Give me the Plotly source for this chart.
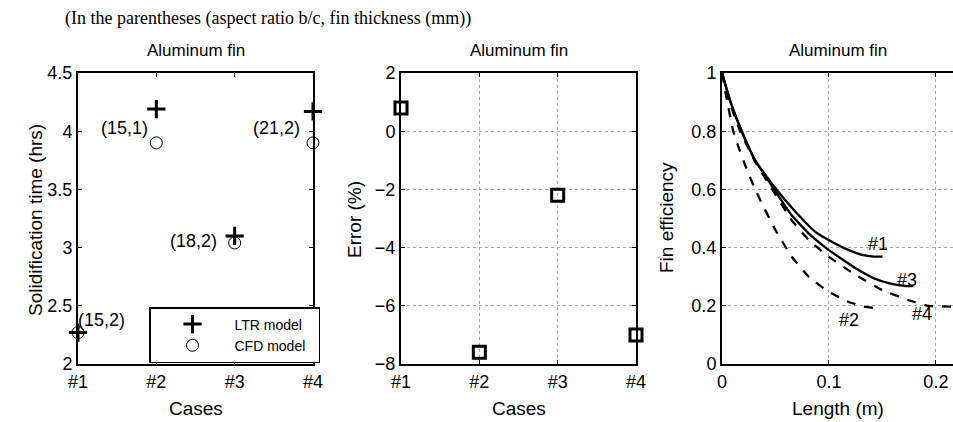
import plotly.graph_objects as go

# ---------------- data ----------------
case_idx = [1, 2, 3, 4]
case_labels = ["#1", "#2", "#3", "#4"]
ltr_time = [2.27, 4.19, 3.10, 4.17]
cfd_time = [2.27, 3.90, 3.04, 3.90]
case_notes = ["(15,2)", "(15,1)", "(18,2)", "(21,2)"]
error_pct = [0.8, -7.6, -2.2, -7.0]

len1 = [0, 0.008, 0.0184, 0.031, 0.05, 0.0685, 0.087, 0.0997, 0.118, 0.131, 0.142, 0.150]
eff1 = [1.0, 0.90, 0.80, 0.70, 0.604, 0.524, 0.455, 0.426, 0.392, 0.375, 0.369, 0.369]
len3 = [0, 0.008, 0.0184, 0.031, 0.047, 0.065, 0.081, 0.0997, 0.125, 0.143, 0.155, 0.165, 0.172, 0.179]
eff3 = [1.0, 0.90, 0.80, 0.70, 0.61, 0.512, 0.449, 0.392, 0.329, 0.293, 0.279, 0.271, 0.268, 0.268]
len4 = [0, 0.008, 0.017, 0.031, 0.047, 0.065, 0.081, 0.0997, 0.125, 0.150, 0.174, 0.193, 0.216]
eff4 = [1.0, 0.89, 0.80, 0.695, 0.60, 0.495, 0.426, 0.369, 0.306, 0.254, 0.220, 0.200, 0.197]
len2 = [0, 0.005, 0.0105, 0.015, 0.022, 0.031, 0.050, 0.065, 0.081, 0.0997, 0.118, 0.132, 0.146]
eff2 = [1.0, 0.90, 0.80, 0.75, 0.68, 0.60, 0.46, 0.37, 0.30, 0.248, 0.214, 0.198, 0.191]
eff_ticks = [0, 0.2, 0.4, 0.6, 0.8, 1]
eff_ticktext = ["0", "0.2", "0.4", "0.6", "0.8", "1"]
len_ticks = [0, 0.1, 0.2]
len_ticktext = ["0", "0.1", "0.2"]

SANS = "Liberation Sans, Arial, sans-serif"
SERIF = "Liberation Serif, Times New Roman, serif"
W, H = 953, 422

def xd(a, b):
    return [a / W, b / W]

ydom = [1 - 364 / H, 1 - 73 / H]

fig = go.Figure()

# Panel 1
fig.add_trace(go.Scatter(x=case_idx, y=ltr_time, mode="markers", name="LTR model\u00a0\u00a0",
                         marker=dict(symbol="cross-thin", size=13, line=dict(width=3, color="black"), color="black"),
                         xaxis="x", yaxis="y", cliponaxis=False))
fig.add_trace(go.Scatter(x=case_idx, y=cfd_time, mode="markers", name="CFD model\u00a0\u00a0",
                         marker=dict(symbol="circle-open", size=12, line=dict(width=1, color="black"), color="black"),
                         xaxis="x", yaxis="y", cliponaxis=False))
# Panel 2
fig.add_trace(go.Scatter(x=case_idx, y=error_pct, mode="markers", showlegend=False,
                         marker=dict(symbol="square-open", size=12, line=dict(width=3, color="black"), color="black"),
                         xaxis="x2", yaxis="y2", cliponaxis=False))
# Panel 3
for L, E, dash in [(len1, eff1, "solid"), (len3, eff3, "solid"), (len2, eff2, "dash"), (len4, eff4, "dash")]:
    fig.add_trace(go.Scatter(x=L, y=E, mode="lines", showlegend=False,
                             line=dict(color="black", width=2.3, dash=dash, shape="spline", smoothing=0.4),
                             xaxis="x3", yaxis="y3"))

axis_common = dict(showline=True, linecolor="black", linewidth=2, ticks="inside", ticklen=4,
                   tickcolor="black", tickwidth=1, zeroline=False, automargin=False,
                   tickfont=dict(family=SANS, size=18, color="black"))
grid = dict(showgrid=True, gridcolor="#a8a8a8", griddash="dot", gridwidth=1)

fig.update_layout(
    width=W, height=H, margin=dict(l=0, r=0, t=0, b=0, autoexpand=False),
    paper_bgcolor="white", plot_bgcolor="white",
    xaxis=dict(domain=xd(78, 313), range=[1, 4], tickvals=case_idx, ticktext=case_labels,
               mirror="ticks", showgrid=False, anchor="y", **axis_common),
    yaxis=dict(domain=ydom, range=[2, 4.5], dtick=0.5, mirror="ticks", showgrid=False,
               anchor="x", **axis_common),
    xaxis2=dict(domain=xd(401, 636), range=[1, 4], tickvals=case_idx, ticktext=case_labels,
                mirror="ticks", anchor="y2", **grid, **axis_common),
    yaxis2=dict(domain=ydom, range=[-8, 2], dtick=2, mirror="ticks", anchor="x2",
                **grid, **axis_common),
    xaxis3=dict(domain=xd(722, 953), range=[0, 0.216], tickvals=len_ticks,
                ticktext=len_ticktext, mirror="ticks", anchor="y3", **grid, **axis_common),
    yaxis3=dict(domain=ydom, range=[0, 1], tickvals=eff_ticks, ticktext=eff_ticktext,
                mirror=False, anchor="x3", **grid, **axis_common),
    showlegend=True,
    legend=dict(x=149 / W, y=1 - 307 / H, xanchor="left", yanchor="top",
                bordercolor="black", borderwidth=1.5, bgcolor="white",
                font=dict(family=SANS, size=14, color="black"), itemwidth=74,
                tracegroupgap=0),
)

ann = []
def txt(text, x, y, size, family=SANS, angle=0, **kw):
    ann.append(dict(text=text, x=x, y=y, xref="paper", yref="paper", showarrow=False,
                    font=dict(family=family, size=size, color="black"), textangle=angle,
                    xanchor="center", yanchor="middle", **kw))

txt("(In the parentheses (aspect ratio b/c, fin thickness (mm))", 268 / W, 1 - 18 / H, 18, family=SERIF)
for cx in [195.5, 518.5, 837.5]:
    txt("Aluminum fin", cx / W, 1 - 50 / H, 17)
txt("Cases", 195.5 / W, 1 - 408 / H, 19)
txt("Cases", 518.5 / W, 1 - 408 / H, 19)
txt("Length (m)", 837.5 / W, 1 - 408 / H, 19)
txt("Solidification time (hrs)", 35 / W, 1 - 220 / H, 19, angle=-90)
txt("Error (%)", 354 / W, 1 - 220 / H, 19, angle=-90)
txt("Fin efficiency", 666 / W, 1 - 218 / H, 19, angle=-90)

# case notes anchored to CFD points
note_shift = [(-2, 13, "left"), (-6, 15, "right"), (-16, 2, "right"), (-11, 15, "right")]
for i, (dx, dy, xa) in enumerate(note_shift):
    ann.append(dict(text=case_notes[i], x=case_idx[i], y=cfd_time[i], xref="x", yref="y",
                    showarrow=False, xanchor=xa, yanchor="middle", xshift=dx, yshift=dy,
                    font=dict(family=SANS, size=18, color="black")))

# curve labels anchored to curve ends
for lab, L, E, dx, dy in [("#1", len1, eff1, -4, 13), ("#3", len3, eff3, -6, 6),
                          ("#2", len2, eff2, -29, -12), ("#4", len4, eff4, -31, -7)]:
    ann.append(dict(text=lab, x=L[-1], y=E[-1], xref="x3", yref="y3", showarrow=False,
                    xanchor="center", yanchor="middle", xshift=dx, yshift=dy,
                    font=dict(family=SANS, size=18, color="black")))

fig.update_layout(annotations=ann)
fig.write_html("out.html", config={"responsive": False},
               default_width="953px", default_height="422px",
               post_script="document.body.style.margin='0';document.body.style.overflow='hidden';")
